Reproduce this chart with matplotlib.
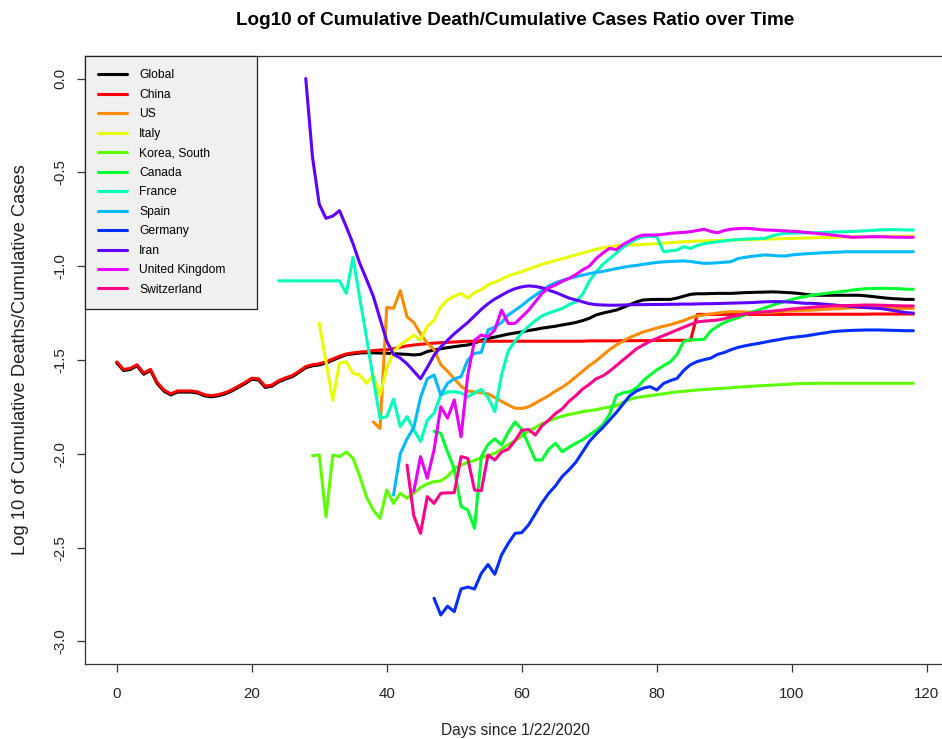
import numpy as np
import matplotlib.pyplot as plt

plt.rcParams['font.family'] = ['Liberation Sans', 'DejaVu Sans']
plt.rcParams['axes.unicode_minus'] = False

# Countries, colours (black + R rainbow(11)) and first day of each series
countries = ['Global', 'China', 'US', 'Italy', 'Korea, South', 'Canada',
             'France', 'Spain', 'Germany', 'Iran', 'United Kingdom', 'Switzerland']
colors = ['#000000', '#FF0000', '#FF8B00', '#E8FF00', '#5DFF00', '#00FF2E',
          '#00FFB9', '#00B9FF', '#002EFF', '#5D00FF', '#E800FF', '#FF008B']
start_days = [0, 0, 38, 30, 29, 47, 24, 41, 47, 28, 44, 43]

# log10(deaths / cases), one value per day
global_vals = [
    -1.515, -1.556, -1.551, -1.531, -1.576, -1.556, -1.626, -1.666, -1.686, -1.671,
    -1.671, -1.671, -1.676, -1.691, -1.696, -1.691, -1.681, -1.666, -1.646, -1.626,
    -1.603, -1.606, -1.646, -1.639, -1.616, -1.601, -1.589, -1.566, -1.541, -1.531,
    -1.526, -1.516, -1.501, -1.486, -1.472, -1.467, -1.463, -1.461, -1.462, -1.463,
    -1.464, -1.466, -1.468, -1.47, -1.473, -1.47, -1.455, -1.447, -1.44, -1.434,
    -1.429, -1.424, -1.42, -1.41, -1.395, -1.385, -1.378, -1.37, -1.362, -1.356,
    -1.35, -1.343, -1.337, -1.33, -1.325, -1.32, -1.313, -1.307, -1.30, -1.29,
    -1.278, -1.26, -1.25, -1.242, -1.234, -1.22, -1.205, -1.19, -1.18, -1.178,
    -1.177, -1.177, -1.177, -1.17, -1.16, -1.15, -1.147, -1.147, -1.146, -1.145,
    -1.145, -1.145, -1.143, -1.141, -1.14, -1.139, -1.138, -1.137, -1.138, -1.14,
    -1.142, -1.145, -1.15, -1.154, -1.155, -1.155, -1.155, -1.155, -1.155, -1.155,
    -1.155, -1.158, -1.162, -1.166, -1.17, -1.173, -1.175, -1.177, -1.177]

china = [
    -1.51, -1.55, -1.545, -1.525, -1.57, -1.55, -1.62, -1.66, -1.68, -1.665,
    -1.665, -1.665, -1.67, -1.685, -1.69, -1.685, -1.675, -1.66, -1.64, -1.62,
    -1.597, -1.60, -1.64, -1.633, -1.61, -1.595, -1.583, -1.56, -1.535, -1.525,
    -1.52, -1.51, -1.495, -1.48, -1.468, -1.462, -1.458, -1.455, -1.45, -1.447,
    -1.445, -1.44, -1.432, -1.425, -1.42, -1.416, -1.413, -1.41, -1.408, -1.406,
    -1.404, -1.402, -1.40, -1.40, -1.40, -1.40, -1.40, -1.40, -1.40, -1.40,
    -1.40, -1.40, -1.40, -1.40, -1.40, -1.40, -1.40, -1.40, -1.40, -1.40,
    -1.398, -1.398, -1.398, -1.398, -1.398, -1.397, -1.397, -1.397, -1.397, -1.397,
    -1.396, -1.396, -1.395, -1.395, -1.395, -1.395, -1.257, -1.257, -1.257, -1.257,
    -1.257, -1.257, -1.257, -1.257, -1.257, -1.257, -1.257, -1.257, -1.257, -1.257,
    -1.256, -1.256, -1.256, -1.256, -1.256, -1.256, -1.256, -1.256, -1.256, -1.256,
    -1.256, -1.256, -1.255, -1.255, -1.255, -1.255, -1.255, -1.255, -1.255]

us = [
    -1.83, -1.865,
    -1.22, -1.225, -1.13, -1.27, -1.30, -1.36, -1.41, -1.445, -1.525, -1.56,
    -1.60, -1.64, -1.665, -1.67, -1.675, -1.68, -1.70, -1.72, -1.74, -1.757,
    -1.758, -1.75, -1.73, -1.71, -1.69, -1.665, -1.645, -1.62, -1.59, -1.56,
    -1.53, -1.505, -1.475, -1.445, -1.42, -1.40, -1.38, -1.365, -1.35, -1.34,
    -1.33, -1.32, -1.312, -1.30, -1.29, -1.275, -1.265, -1.26, -1.255, -1.25,
    -1.245, -1.243, -1.243, -1.244, -1.246, -1.248, -1.248, -1.246, -1.243, -1.24,
    -1.238, -1.236, -1.235, -1.234, -1.232, -1.23, -1.228, -1.226, -1.224, -1.222,
    -1.221, -1.22, -1.221, -1.222, -1.223, -1.224, -1.225, -1.225, -1.225]

italy = [
    -1.305, -1.51, -1.713, -1.515, -1.51, -1.571, -1.58, -1.624, -1.58, -1.687,
    -1.545, -1.456, -1.42, -1.394, -1.367, -1.394, -1.32, -1.29, -1.216, -1.18,
    -1.16, -1.145, -1.17, -1.14, -1.125, -1.10, -1.085, -1.07, -1.052, -1.04,
    -1.03, -1.015, -1.003, -0.99, -0.98, -0.97, -0.96, -0.95, -0.94, -0.93,
    -0.92, -0.91, -0.903, -0.897, -0.892, -0.888, -0.887, -0.886, -0.884, -0.882,
    -0.88, -0.877, -0.875, -0.872, -0.87, -0.868, -0.866, -0.865, -0.864, -0.863,
    -0.862, -0.861, -0.86, -0.859, -0.858, -0.857, -0.856, -0.855, -0.854, -0.853,
    -0.852, -0.851, -0.85, -0.849, -0.848, -0.847, -0.846, -0.845, -0.844, -0.844,
    -0.843, -0.843, -0.842, -0.842, -0.841, -0.841, -0.84, -0.84, -0.84]

korea = [
    -2.01,
    -2.006, -2.335, -2.006, -2.015, -1.99, -2.024, -2.12, -2.23, -2.30, -2.344,
    -2.193, -2.264, -2.21, -2.237, -2.21, -2.18, -2.16, -2.148, -2.145, -2.12,
    -2.08, -2.06, -2.045, -2.035, -2.02, -2.01, -1.997, -1.975, -1.95, -1.93,
    -1.905, -1.88, -1.86, -1.84, -1.825, -1.81, -1.80, -1.79, -1.784, -1.775,
    -1.77, -1.765, -1.757, -1.75, -1.745, -1.725, -1.71, -1.70, -1.695, -1.69,
    -1.685, -1.68, -1.675, -1.67, -1.667, -1.663, -1.66, -1.657, -1.655, -1.652,
    -1.65, -1.648, -1.645, -1.643, -1.64, -1.638, -1.636, -1.634, -1.632, -1.63,
    -1.628, -1.626, -1.625, -1.625, -1.624, -1.624, -1.624, -1.624, -1.624, -1.624,
    -1.624, -1.624, -1.624, -1.624, -1.624, -1.624, -1.624, -1.624, -1.624]

canada = [
    -1.88, -1.89, -1.99,
    -2.08, -2.28, -2.30, -2.397, -2.015, -1.95, -1.92, -1.953, -1.885, -1.83,
    -1.87, -1.95, -2.033, -2.033, -1.975, -1.944, -1.989, -1.965, -1.944, -1.925,
    -1.90, -1.875, -1.845, -1.79, -1.69, -1.675, -1.669, -1.65, -1.61, -1.58,
    -1.553, -1.53, -1.51, -1.47, -1.40, -1.392, -1.392, -1.39, -1.345, -1.32,
    -1.30, -1.287, -1.275, -1.26, -1.245, -1.235, -1.222, -1.21, -1.198, -1.188,
    -1.178, -1.168, -1.162, -1.155, -1.15, -1.145, -1.141, -1.137, -1.132, -1.127,
    -1.123, -1.12, -1.119, -1.118, -1.118, -1.119, -1.12, -1.123, -1.123]

france = [
    -1.078, -1.078, -1.078, -1.078, -1.078, -1.078,
    -1.078, -1.078, -1.078, -1.078, -1.145, -0.953, -1.17, -1.38, -1.60, -1.811,
    -1.802, -1.709, -1.855, -1.802, -1.87, -1.935, -1.82, -1.784, -1.687, -1.67,
    -1.669, -1.675, -1.696, -1.675, -1.656, -1.70, -1.775, -1.58, -1.45, -1.40,
    -1.355, -1.32, -1.29, -1.265, -1.25, -1.237, -1.225, -1.205, -1.19, -1.15,
    -1.08, -1.03, -0.99, -0.96, -0.93, -0.90, -0.875, -0.855, -0.843, -0.84,
    -0.843, -0.923, -0.918, -0.914, -0.896, -0.905, -0.89, -0.88, -0.875, -0.87,
    -0.865, -0.861, -0.858, -0.856, -0.854, -0.853, -0.852, -0.84, -0.83, -0.825,
    -0.824, -0.823, -0.822, -0.822, -0.821, -0.82, -0.818, -0.817, -0.816, -0.815,
    -0.813, -0.811, -0.809, -0.807, -0.806, -0.805, -0.806, -0.807, -0.807]

spain = [
    -2.22, -2.00, -1.92, -1.86, -1.70, -1.60, -1.58, -1.687, -1.624,
    -1.60, -1.589, -1.50, -1.464, -1.46, -1.34, -1.325, -1.30, -1.26, -1.235,
    -1.21, -1.18, -1.155, -1.13, -1.105, -1.088, -1.076, -1.066, -1.056, -1.048,
    -1.04, -1.033, -1.028, -1.02, -1.013, -1.006, -1.0, -0.996, -0.99, -0.985,
    -0.98, -0.977, -0.975, -0.973, -0.972, -0.975, -0.98, -0.985, -0.984, -0.982,
    -0.979, -0.976, -0.96, -0.953, -0.948, -0.944, -0.94, -0.942, -0.945, -0.946,
    -0.94, -0.937, -0.934, -0.932, -0.93, -0.928, -0.926, -0.925, -0.923, -0.923,
    -0.923, -0.923, -0.923, -0.923, -0.923, -0.923, -0.923, -0.923, -0.923]

germany = [
    -2.77, -2.859, -2.812,
    -2.841, -2.72, -2.71, -2.72, -2.637, -2.59, -2.642, -2.539, -2.477, -2.424,
    -2.42, -2.379, -2.32, -2.26, -2.21, -2.17, -2.12, -2.085, -2.045, -1.99,
    -1.935, -1.895, -1.86, -1.82, -1.78, -1.735, -1.69, -1.665, -1.65, -1.642,
    -1.66, -1.625, -1.61, -1.598, -1.555, -1.525, -1.508, -1.498, -1.49, -1.47,
    -1.46, -1.445, -1.433, -1.425, -1.418, -1.412, -1.405, -1.398, -1.392, -1.385,
    -1.38, -1.376, -1.372, -1.366, -1.36, -1.355, -1.349, -1.346, -1.344, -1.342,
    -1.341, -1.34, -1.34, -1.34, -1.341, -1.342, -1.343, -1.344, -1.344]

iran = [
    0.0, -0.42,
    -0.67, -0.745, -0.733, -0.704, -0.79, -0.88, -0.985, -1.07, -1.16, -1.28,
    -1.40, -1.47, -1.49, -1.52, -1.56, -1.60, -1.54, -1.475, -1.43, -1.395,
    -1.36, -1.33, -1.30, -1.265, -1.23, -1.20, -1.175, -1.155, -1.135, -1.12,
    -1.11, -1.105, -1.108, -1.115, -1.128, -1.14, -1.155, -1.17, -1.18, -1.19,
    -1.20, -1.205, -1.207, -1.208, -1.208, -1.207, -1.206, -1.205, -1.205, -1.204,
    -1.204, -1.204, -1.203, -1.203, -1.202, -1.202, -1.201, -1.20, -1.20, -1.199,
    -1.198, -1.197, -1.196, -1.195, -1.194, -1.192, -1.19, -1.189, -1.189, -1.19,
    -1.192, -1.195, -1.198, -1.198, -1.20, -1.203, -1.206, -1.209, -1.212, -1.215,
    -1.218, -1.221, -1.223, -1.225, -1.23, -1.236, -1.242, -1.248, -1.25]

uk = [
    -2.20, -2.015, -2.13, -1.98, -1.749, -1.81,
    -1.713, -1.909, -1.58, -1.395, -1.367, -1.376, -1.34, -1.234, -1.305, -1.305,
    -1.27, -1.235, -1.19, -1.145, -1.115, -1.10, -1.08, -1.065, -1.045, -1.02,
    -1.00, -0.96, -0.93, -0.905, -0.912, -0.885, -0.865, -0.845, -0.834, -0.834,
    -0.834, -0.83, -0.825, -0.822, -0.82, -0.816, -0.81, -0.803, -0.815, -0.822,
    -0.81, -0.803, -0.80, -0.798, -0.80, -0.804, -0.807, -0.808, -0.81, -0.812,
    -0.814, -0.816, -0.82, -0.823, -0.827, -0.83, -0.834, -0.838, -0.842, -0.846,
    -0.845, -0.844, -0.843, -0.843, -0.844, -0.845, -0.846, -0.846, -0.846]

switzerland = [
    -2.06, -2.33, -2.424, -2.228, -2.264, -2.21, -2.208,
    -2.207, -2.015, -2.024, -2.193, -2.197, -2.006, -2.033, -1.99, -1.975, -1.93,
    -1.875, -1.87, -1.90, -1.85, -1.82, -1.785, -1.76, -1.72, -1.69, -1.655,
    -1.63, -1.60, -1.585, -1.56, -1.53, -1.50, -1.47, -1.44, -1.42, -1.40,
    -1.385, -1.37, -1.355, -1.34, -1.325, -1.31, -1.297, -1.293, -1.29, -1.287,
    -1.28, -1.27, -1.262, -1.255, -1.25, -1.246, -1.243, -1.24, -1.236, -1.232,
    -1.228, -1.225, -1.222, -1.219, -1.216, -1.214, -1.212, -1.211, -1.21, -1.209,
    -1.208, -1.207, -1.207, -1.208, -1.209, -1.21, -1.211, -1.212, -1.212]

series = [global_vals, china, us, italy, korea, canada,
          france, spain, germany, iran, uk, switzerland]

x_ticks = [0, 20, 40, 60, 80, 100, 120]
y_ticks = [0.0, -0.5, -1.0, -1.5, -2.0, -2.5, -3.0]

fig = plt.figure(figsize=(9.42, 7.39), dpi=100)
# the plot region runs a little past the right edge of the picture
ax = fig.add_axes([0.0901, 0.1015, 0.9133, 0.8227])

for name, col, start, vals in zip(countries, colors, start_days, series):
    days = np.arange(start, start + len(vals))
    ax.plot(days, vals, color=col, lw=2.2, label=name,
            solid_joinstyle='round', solid_capstyle='round')

ax.set_xlim(-4.72, 122.72)
ax.set_ylim(-3.12, 0.12)
ax.set_xticks(x_ticks)
ax.set_xticklabels([str(t) for t in x_ticks])
ax.set_yticks(y_ticks)
ax.set_yticklabels([f'{t:.1f}' for t in y_ticks], rotation=90, va='center')

ax.tick_params(axis='both', direction='out', length=5.5, width=0.9,
               color='#333333', labelcolor='#222222', labelsize=10.8)
ax.tick_params(axis='x', pad=11)
ax.tick_params(axis='y', pad=7)
for sp in ax.spines.values():
    sp.set_color('#333333')
    sp.set_linewidth(0.9)

ax.set_xlabel('Days since 1/22/2020', fontsize=11.2, color='#222222', labelpad=16)
ax.set_ylabel('Log 10 of Cumulative Deaths/Cumulative Cases', fontsize=13.2,
              color='#222222', labelpad=18)
ax.set_title('Log10 of Cumulative Death/Cumulative Cases Ratio over Time',
             fontsize=13.6, fontweight='bold', pad=22)

leg = ax.legend(loc='upper left', bbox_to_anchor=(0, 0.584, 0.2, 0.416),
                mode='expand', borderaxespad=0, fontsize=8.7, frameon=True,
                fancybox=False, edgecolor='#222222', facecolor='#f0f0f0',
                framealpha=1, handlelength=2.4, handletextpad=1.0,
                labelspacing=0.62, borderpad=1.1)
leg.get_frame().set_linewidth(0.9)

plt.savefig('out.png', dpi=100)
